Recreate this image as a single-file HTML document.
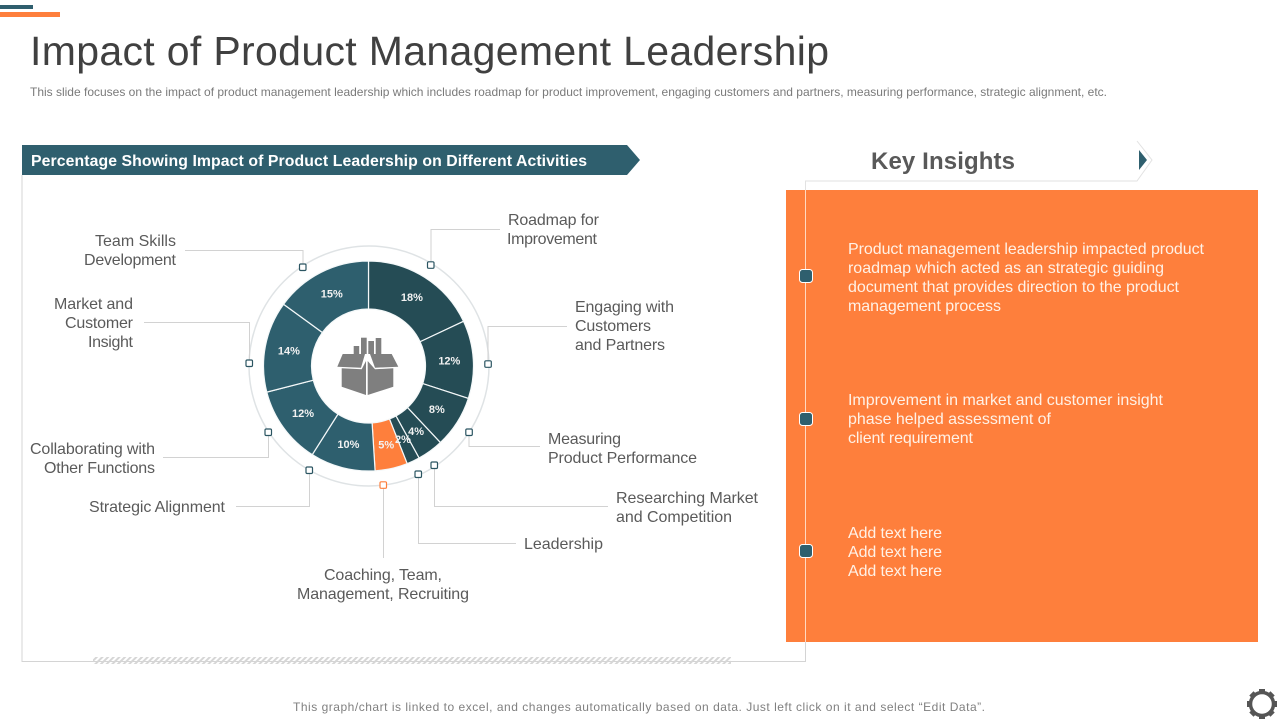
<!DOCTYPE html>
<html lang="en">
<head>
<meta charset="utf-8">
<title>Impact of Product Management Leadership</title>
<style>
html,body{margin:0;padding:0;background:#fff;width:1280px;height:720px;overflow:hidden}
svg{display:block;font-family:"Liberation Sans",sans-serif}
.call{font-size:16px;fill:#5a5a5a}
.ins{font-size:16px;fill:#fff1e6}
.lead{fill:none;stroke:#d2d2d2;stroke-width:1}
.mk{fill:#fff;stroke:#2b5562;stroke-width:1.2}
.pct{font-size:11px;font-weight:bold;fill:#f2f2f2;text-anchor:middle}
</style>
</head>
<body>
<svg id="slide" xmlns="http://www.w3.org/2000/svg" width="1280" height="720" viewBox="0 0 1280 720">
<defs>
<pattern id="hatch" width="4" height="4" patternUnits="userSpaceOnUse" patternTransform="rotate(45)">
<rect width="2" height="4" fill="#d6d6d6"/>
</pattern>
</defs>
<rect x="0" y="5" width="33" height="4" fill="#2f5f6e"/>
<rect x="0" y="12" width="60" height="5" fill="#fe7f3c"/>
<text x="30" y="65" font-size="41" fill="#404040" textLength="799" lengthAdjust="spacing">Impact of Product Management Leadership</text>
<text x="30" y="96" font-size="12" fill="#7a7a7a" textLength="1077" lengthAdjust="spacing">This slide focuses on the impact of product management leadership which includes roadmap for product improvement, engaging customers and partners, measuring performance, strategic alignment, etc.</text>

<rect x="786" y="190" width="472" height="452" fill="#fe7f3c"/>
<path d="M22 175V661.500H805.500V181" fill="none" stroke="#d4d4d4" stroke-width="1"/>
<path d="M805.500 190V642" fill="none" stroke="#ffd9c2" stroke-width="1"/>
<path d="M805.500 190V181H1137L1152 160L1137 141" fill="none" stroke="#e2e2e2" stroke-width="1"/>
<path d="M1139 150L1147 160L1139 170Z" fill="#2f5f6e"/>
<rect x="93" y="657" width="638" height="7" fill="url(#hatch)"/>

<path d="M22 145H627L640 160L627 175H22Z" fill="#2f5f6e"/>
<text x="31" y="166" font-size="15.800" font-weight="bold" fill="#fff" textLength="556" lengthAdjust="spacing">Percentage Showing Impact of Product Leadership on Different Activities</text>
<text x="871" y="169" font-size="24" font-weight="bold" fill="#595959" textLength="144" lengthAdjust="spacing">Key Insights</text>

<circle cx="369" cy="366" r="120" fill="none" stroke="#dfe3e5" stroke-width="1.500"/>
<g id="slices"></g>
<g id="pcts"></g>

<g fill="#7f7f7f">
<rect x="353.700" y="346" width="5.500" height="8"/>
<rect x="361" y="337.700" width="5.700" height="16.300"/>
<rect x="368.300" y="341" width="5.700" height="13"/>
<rect x="375.700" y="338" width="5.600" height="16"/>
<path d="M337.300 366.700L342.700 354H365L361 367.700Z"/>
<path d="M370 354H391.700L398.300 366.700L375 367.700Z"/>
<path d="M341.700 368.300L361.700 369.300L366 361V395L341.700 386.700Z"/>
<path d="M367.700 361L375 369.300L393.300 368.300V386.700L367.700 395Z"/>
</g>

<g>
<path class="lead" d="M185 250.500H303V267"/>
<path class="lead" d="M431 265V229.500H500"/>
<path class="lead" d="M488 364V326.500H567"/>
<path class="lead" d="M469 432V446.500H540"/>
<path class="lead" d="M434.500 465V506.500H608"/>
<path class="lead" d="M418.500 474V543.500H516"/>
<path class="lead" d="M383.500 485V558"/>
<path class="lead" d="M309.500 470V506.500H236"/>
<path class="lead" d="M268.500 432V457.500H163"/>
<path class="lead" d="M249.500 363V322.500H144"/>
</g>
<g>
<rect class="mk" x="299.500" y="264" width="6.500" height="6.500" rx="1.200"/>
<rect class="mk" x="427.500" y="261.800" width="6.500" height="6.500" rx="1.200"/>
<rect class="mk" x="484.800" y="360.800" width="6.500" height="6.500" rx="1.200"/>
<rect class="mk" x="465.800" y="429" width="6.500" height="6.500" rx="1.200"/>
<rect class="mk" x="431" y="462" width="6.500" height="6.500" rx="1.200"/>
<rect class="mk" x="415" y="471" width="6.500" height="6.500" rx="1.200"/>
<rect class="mk" x="380" y="481.800" width="6.500" height="6.500" rx="1.200" style="stroke:#fe7f3c"/>
<rect class="mk" x="306" y="467" width="6.500" height="6.500" rx="1.200"/>
<rect class="mk" x="265" y="429" width="6.500" height="6.500" rx="1.200"/>
<rect class="mk" x="246" y="360" width="6.500" height="6.500" rx="1.200"/>
</g>

<g>
<text class="call"><tspan x="95" y="246" textLength="81">Team Skills</tspan><tspan x="84" y="265" textLength="92">Development</tspan></text>
<text class="call"><tspan x="508" y="225" textLength="91">Roadmap for</tspan><tspan x="507" y="244" textLength="90">Improvement</tspan></text>
<text class="call"><tspan x="575" y="312" textLength="99">Engaging with</tspan><tspan x="575" y="331" textLength="76">Customers</tspan><tspan x="575" y="350" textLength="90">and Partners</tspan></text>
<text class="call"><tspan x="54" y="309" textLength="79">Market and</tspan><tspan x="65" y="328" textLength="68">Customer</tspan><tspan x="88" y="347" textLength="45">Insight</tspan></text>
<text class="call"><tspan x="548" y="444" textLength="73">Measuring</tspan><tspan x="548" y="463" textLength="149">Product Performance</tspan></text>
<text class="call"><tspan x="616" y="503" textLength="142">Researching Market</tspan><tspan x="616" y="522" textLength="116">and Competition</tspan></text>
<text class="call" x="524" y="549" textLength="79">Leadership</text>
<text class="call"><tspan x="324" y="580" textLength="118">Coaching, Team,</tspan><tspan x="297" y="599" textLength="172">Management, Recruiting</tspan></text>
<text class="call" x="89" y="512" textLength="136">Strategic Alignment</text>
<text class="call"><tspan x="30" y="454" textLength="125">Collaborating with</tspan><tspan x="44" y="473" textLength="111">Other Functions</tspan></text>
</g>

<g>
<rect x="799.500" y="269.500" width="13" height="13" rx="3" fill="#2f5f6e" stroke="#fff" stroke-width="1"/>
<rect x="799.500" y="412.500" width="13" height="13" rx="3" fill="#2f5f6e" stroke="#fff" stroke-width="1"/>
<rect x="799.500" y="544.500" width="13" height="13" rx="3" fill="#2f5f6e" stroke="#fff" stroke-width="1"/>
</g>
<text class="ins"><tspan x="848" y="254" textLength="356">Product management leadership impacted product</tspan><tspan x="848" y="273" textLength="316">roadmap which acted as an strategic guiding</tspan><tspan x="848" y="292" textLength="331">document that provides direction to the product</tspan><tspan x="848" y="311" textLength="153">management process</tspan></text>
<text class="ins"><tspan x="848" y="405" textLength="315">Improvement in market and customer insight</tspan><tspan x="848" y="424" textLength="203">phase helped assessment of</tspan><tspan x="848" y="443" textLength="125">client requirement</tspan></text>
<text class="ins"><tspan x="848" y="538" textLength="94">Add text here</tspan><tspan x="848" y="557" textLength="94">Add text here</tspan><tspan x="848" y="576" textLength="94">Add text here</tspan></text>

<text x="293" y="711" font-size="12" fill="#808080" textLength="692" lengthAdjust="spacing">This graph/chart is linked to excel, and changes automatically based on data. Just left click on it and select “Edit Data”.</text>

<g fill="#555">
<circle cx="1262" cy="704" r="11.500" fill="none" stroke="#555" stroke-width="3.500"/>
<rect x="1259" y="689" width="6" height="5" transform="rotate(0 1262 704)"/>
<rect x="1259" y="689" width="6" height="5" transform="rotate(45 1262 704)"/>
<rect x="1259" y="689" width="6" height="5" transform="rotate(90 1262 704)"/>
<rect x="1259" y="689" width="6" height="5" transform="rotate(135 1262 704)"/>
<rect x="1259" y="689" width="6" height="5" transform="rotate(180 1262 704)"/>
<rect x="1259" y="689" width="6" height="5" transform="rotate(225 1262 704)"/>
<rect x="1259" y="689" width="6" height="5" transform="rotate(270 1262 704)"/>
<rect x="1259" y="689" width="6" height="5" transform="rotate(315 1262 704)"/>
</g>
</svg>
<script>
var categories = ["Roadmap for Improvement", "Engaging with Customers and Partners", "Measuring Product Performance", "Researching Market and Competition", "Leadership", "Coaching, Team, Management, Recruiting", "Strategic Alignment", "Collaborating with Other Functions", "Market and Customer Insight", "Team Skills Development"];
var values = [18, 12, 8, 4, 2, 5, 10, 12, 14, 15];
var highlightedCategory = "Coaching, Team, Management, Recruiting";

var NS = "http://www.w3.org/2000/svg";
var CX = 368.5, CY = 366, R_OUT = 105, R_IN = 57, R_LABEL = 81;
var total = values.reduce(function (a, b) { return a + b; }, 0);

function angleOf(v) { return v / total * 2 * Math.PI; }
function px(r, a) { return CX + r * Math.sin(a); }
function py(r, a) { return CY - r * Math.cos(a); }
function sliceColor(i, a) {
  if (categories[i] === highlightedCategory) { return "#fe7f3c"; }
  return a < Math.PI ? "#254c55" : "#2e5f6e";
}

var sliceLayer = document.getElementById("slices");
var labelLayer = document.getElementById("pcts");
var cum = 0;
values.forEach(function (v, i) {
  var a0 = angleOf(cum), a1 = angleOf(cum + v), mid = (a0 + a1) / 2;
  var large = a1 - a0 > Math.PI ? 1 : 0;
  var d = "M" + px(R_OUT, a0) + " " + py(R_OUT, a0) +
    "A" + R_OUT + " " + R_OUT + " 0 " + large + " 1 " + px(R_OUT, a1) + " " + py(R_OUT, a1) +
    "L" + px(R_IN, a1) + " " + py(R_IN, a1) +
    "A" + R_IN + " " + R_IN + " 0 " + large + " 0 " + px(R_IN, a0) + " " + py(R_IN, a0) + "Z";
  var p = document.createElementNS(NS, "path");
  p.setAttribute("d", d);
  p.setAttribute("fill", sliceColor(i, mid));
  p.setAttribute("stroke", "#f4f8f9");
  p.setAttribute("stroke-width", "1.200");
  
  
  sliceLayer.appendChild(p);

  var t = document.createElementNS(NS, "text");
  t.setAttribute("class", "pct");
  t.setAttribute("x", px(R_LABEL, mid));
  t.setAttribute("y", py(R_LABEL, mid) + 3.500);
  t.textContent = v + "%";
  
  
  labelLayer.appendChild(t);
  cum += v;
});
</script>
</body>
</html>
